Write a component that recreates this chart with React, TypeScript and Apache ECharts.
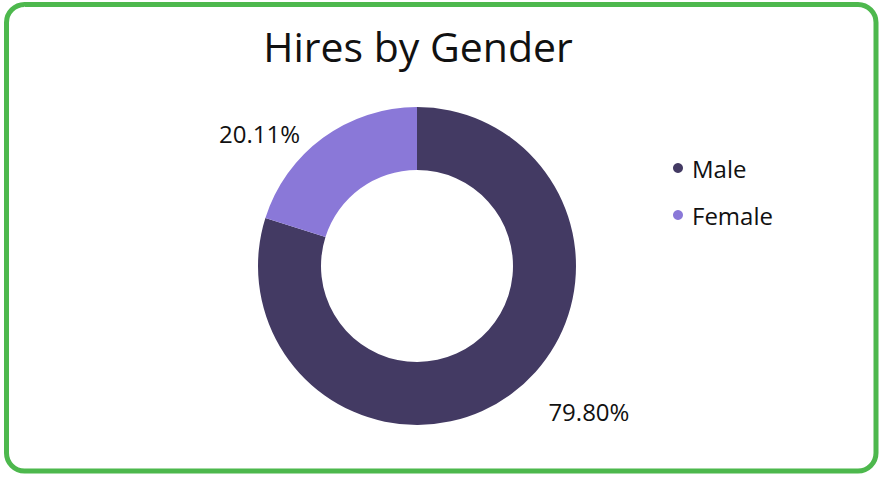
import React, { useEffect, useRef } from "react";
import * as echarts from "echarts";

const categories = ["Male", "Female"];
const values = [79.8, 20.11];
const colors = ["#433a63", "#8a78d8"];
const labelLines = [
  { length: 21, length2: 20 },
  { length: 5, length2: 15 },
];

export default function App() {
  const ref = useRef<HTMLDivElement>(null);
  useEffect(() => {
    if (!ref.current) return;
    const chart = echarts.init(ref.current, null, { renderer: "svg" });
    const font = "Open Sans";
    chart.setOption({
      animation: false,
      backgroundColor: "#ffffff",
      title: {
        text: "Hires by Gender",
        left: 413,
        top: 20,
        textAlign: "center",
        textStyle: { fontFamily: font, fontSize: 41, fontWeight: 400, color: "#111111" },
      },
      legend: {
        orient: "vertical",
        left: 668,
        top: 151,
        itemGap: 23,
        icon: "circle",
        itemWidth: 10,
        itemHeight: 10,
        textStyle: { fontFamily: font, fontSize: 24, color: "#111111", padding: [0, 0, 0, 4] },
        data: categories,
      },
      graphic: [
        {
          type: "rect",
          shape: { x: 6.5, y: 4.5, width: 869.5, height: 466.5, r: 18 },
          style: { fill: "none", stroke: "#4db84d", lineWidth: 5 },
          z: 10,
        },
      ],
      series: [
        {
          type: "pie",
          center: [417, 266],
          radius: [96, 159],
          startAngle: 90,
          clockwise: true,
          avoidLabelOverlap: false,
          label: {
            show: true,
            position: "outside",
            formatter: (p: any) => p.value.toFixed(2) + "%",
            fontFamily: font,
            fontSize: 24,
            color: "#111111",
          },
          labelLine: { show: false },
          emphasis: { disabled: true },
          data: categories.map((name, i) => ({
            name,
            value: values[i],
            itemStyle: { color: colors[i] },
            labelLine: { show: false, ...labelLines[i] },
          })),
        },
      ],
    });
    return () => chart.dispose();
  }, []);
  return (
    <div
      ref={ref}
      style={{ position: "absolute", left: 0, top: 0, width: 880, height: 479 }}
    />
  );
}
